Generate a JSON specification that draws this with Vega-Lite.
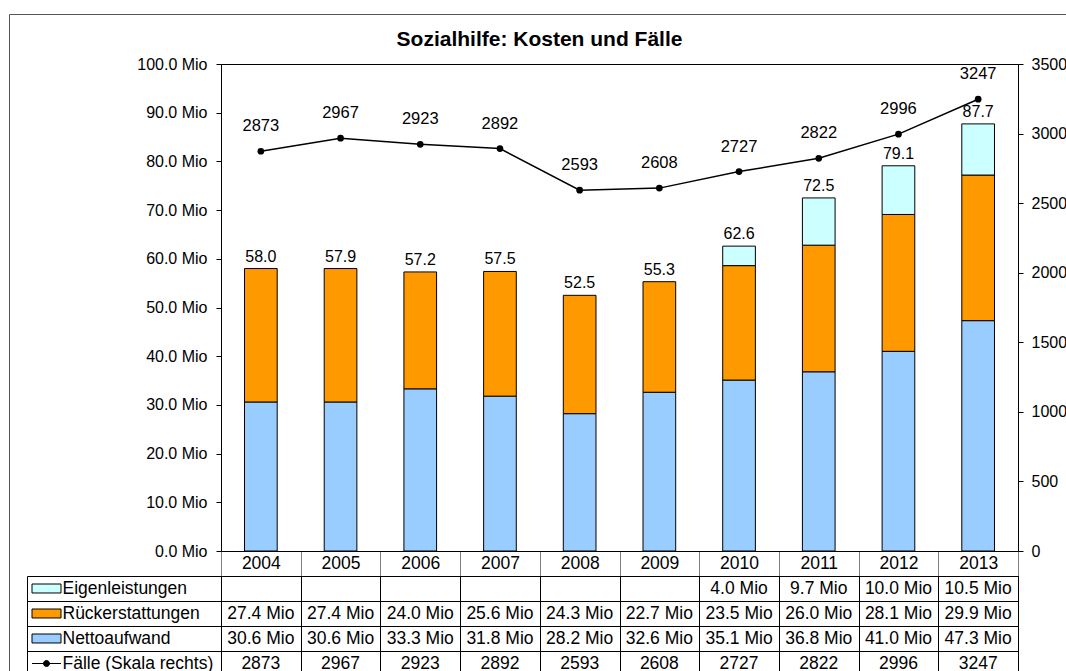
{
  "$schema": "https://vega.github.io/schema/vega-lite/v6.json",
  "padding": {"left": 8, "top": 13, "right": 0, "bottom": 0},
  "background": "white",
  "title": {"text": "Sozialhilfe: Kosten und Fälle", "fontSize": 21, "fontWeight": "bold", "color": "black", "anchor": "middle", "dy": 40, "dx": -112},
  "datasets": {
    "rows": [
      {"year": "2004", "series": "Nettoaufwand", "value": 30.6},
      {"year": "2004", "series": "Rückerstattungen", "value": 27.4},
      {"year": "2004", "series": "Fälle (Skala rechts)", "value": 2873},
      {"year": "2005", "series": "Nettoaufwand", "value": 30.6},
      {"year": "2005", "series": "Rückerstattungen", "value": 27.4},
      {"year": "2005", "series": "Fälle (Skala rechts)", "value": 2967},
      {"year": "2006", "series": "Nettoaufwand", "value": 33.3},
      {"year": "2006", "series": "Rückerstattungen", "value": 24.0},
      {"year": "2006", "series": "Fälle (Skala rechts)", "value": 2923},
      {"year": "2007", "series": "Nettoaufwand", "value": 31.8},
      {"year": "2007", "series": "Rückerstattungen", "value": 25.6},
      {"year": "2007", "series": "Fälle (Skala rechts)", "value": 2892},
      {"year": "2008", "series": "Nettoaufwand", "value": 28.2},
      {"year": "2008", "series": "Rückerstattungen", "value": 24.3},
      {"year": "2008", "series": "Fälle (Skala rechts)", "value": 2593},
      {"year": "2009", "series": "Nettoaufwand", "value": 32.6},
      {"year": "2009", "series": "Rückerstattungen", "value": 22.7},
      {"year": "2009", "series": "Fälle (Skala rechts)", "value": 2608},
      {"year": "2010", "series": "Nettoaufwand", "value": 35.1},
      {"year": "2010", "series": "Rückerstattungen", "value": 23.5},
      {"year": "2010", "series": "Eigenleistungen", "value": 4.0},
      {"year": "2010", "series": "Fälle (Skala rechts)", "value": 2727},
      {"year": "2011", "series": "Nettoaufwand", "value": 36.8},
      {"year": "2011", "series": "Rückerstattungen", "value": 26.0},
      {"year": "2011", "series": "Eigenleistungen", "value": 9.7},
      {"year": "2011", "series": "Fälle (Skala rechts)", "value": 2822},
      {"year": "2012", "series": "Nettoaufwand", "value": 41.0},
      {"year": "2012", "series": "Rückerstattungen", "value": 28.1},
      {"year": "2012", "series": "Eigenleistungen", "value": 10.0},
      {"year": "2012", "series": "Fälle (Skala rechts)", "value": 2996},
      {"year": "2013", "series": "Nettoaufwand", "value": 47.3},
      {"year": "2013", "series": "Rückerstattungen", "value": 29.9},
      {"year": "2013", "series": "Eigenleistungen", "value": 10.5},
      {"year": "2013", "series": "Fälle (Skala rechts)", "value": 3247}
    ],
    "totals": [
      {"year": "2004", "total": 58.0},
      {"year": "2005", "total": 57.9},
      {"year": "2006", "total": 57.2},
      {"year": "2007", "total": 57.5},
      {"year": "2008", "total": 52.5},
      {"year": "2009", "total": 55.3},
      {"year": "2010", "total": 62.6},
      {"year": "2011", "total": 72.5},
      {"year": "2012", "total": 79.1},
      {"year": "2013", "total": 87.7}
    ],
    "legend": [
      {"series": "Eigenleistungen"},
      {"series": "Rückerstattungen"},
      {"series": "Nettoaufwand"},
      {"series": "Fälle (Skala rechts)"}
    ]
  },
  "bounds": "flush",
  "spacing": 25,
  "vconcat": [
    {
      "width": 797,
      "height": 487,
      "layer": [
        {
          "layer": [
            {
              "layer": [
                {
                  "data": {"name": "rows"},
                  "transform": [{"filter": "datum.series != 'Fälle (Skala rechts)'"}],
                  "mark": {"type": "bar", "stroke": "black", "strokeWidth": 1, "width": {"band": 0.41}},
                  "encoding": {
                    "x": {"field": "year", "type": "ordinal", "scale": {"type": "band", "paddingInner": 0, "paddingOuter": 0},
                      "axis": {"orient": "bottom", "title": null, "labelAngle": 0, "tickBand": "extent", "tickSize": 25, "tickColor": "#808080", "labelPadding": -22, "labelFontSize": 17.5, "domainColor": "black", "labelBaseline": "top"}},
                    "y": {"field": "value", "type": "quantitative", "stack": "zero", "scale": {"domain": [0, 100], "nice": false},
                      "axis": {"orient": "left", "title": null, "values": [0, 10, 20, 30, 40, 50, 60, 70, 80, 90, 100], "labelExpr": "format(datum.value, '.1f') + ' Mio'", "tickSize": 5, "labelPadding": 9}},
                    "fill": {"field": "series", "type": "nominal",
                      "scale": {"domain": ["Eigenleistungen", "Rückerstattungen", "Nettoaufwand", "Fälle (Skala rechts)"], "range": ["#CCFFFF", "#FF9900", "#99CCFF", "#000000"]}, "legend": null},
                    "order": {"field": "value", "sort": "descending"}
                  }
                },
                {
                  "data": {"name": "totals"},
                  "mark": {"type": "text", "baseline": "middle", "dy": -12, "fontSize": 16},
                  "encoding": {
                    "x": {"field": "year", "type": "ordinal"},
                    "y": {"field": "total", "type": "quantitative", "axis": {"title": null}},
                    "text": {"field": "total", "type": "quantitative", "format": ".1f"}
                  }
                }
              ]
            },
            {
              "layer": [
                {
                  "data": {"name": "rows"},
                  "transform": [{"filter": "datum.series == 'Fälle (Skala rechts)'"}],
                  "mark": {"type": "line", "color": "black", "strokeWidth": 1.5},
                  "encoding": {
                    "x": {"field": "year", "type": "ordinal"},
                    "y": {"field": "value", "type": "quantitative", "scale": {"domain": [0, 3500], "nice": false},
                      "axis": {"orient": "right", "title": null, "values": [0, 500, 1000, 1500, 2000, 2500, 3000, 3500], "format": "d", "tickSize": 5, "labelPadding": 8}}
                  }
                },
                {
                  "data": {"name": "rows"},
                  "transform": [{"filter": "datum.series == 'Fälle (Skala rechts)'"}],
                  "mark": {"type": "point", "filled": true, "color": "black", "size": 45, "opacity": 1},
                  "encoding": {
                    "x": {"field": "year", "type": "ordinal"},
                    "y": {"field": "value", "type": "quantitative", "axis": {"title": null}}
                  }
                },
                {
                  "data": {"name": "rows"},
                  "transform": [{"filter": "datum.series == 'Fälle (Skala rechts)'"}],
                  "mark": {"type": "text", "baseline": "middle", "dy": -25, "fontSize": 16.5},
                  "encoding": {
                    "x": {"field": "year", "type": "ordinal"},
                    "y": {"field": "value", "type": "quantitative", "axis": {"title": null}},
                    "text": {"field": "value", "type": "quantitative", "format": "d"}
                  }
                }
              ]
            }
          ],
          "resolve": {"scale": {"y": "independent"}}
        },
        {
          "data": {"values": [{}]},
          "mark": {"type": "point", "opacity": 0, "size": 0, "strokeWidth": 0},
          "encoding": {
            "x": {"datum": 0.5, "type": "quantitative", "scale": {"domain": [0, 1], "range": [-212, 861]},
              "axis": {"orient": "top", "offset": 50, "title": null, "labels": false, "ticks": false, "grid": false, "domain": true, "domainColor": "#555555"}},
            "y": {"datum": 0.5, "type": "quantitative", "scale": {"domain": [0, 1], "range": [620, -50]},
              "axis": {"orient": "left", "offset": 212, "title": null, "labels": false, "ticks": false, "grid": false, "domain": true, "domainColor": "#555555"}}
          }
        }
      ],
      "resolve": {"scale": {"x": "independent", "y": "independent"}}
    },
    {
      "width": 797,
      "height": 100,
      "layer": [
        {
          "data": {"name": "rows"},
          "mark": {"type": "text", "fontSize": 17.5, "baseline": "middle", "text": {"expr": "datum.series == 'Fälle (Skala rechts)' ? format(datum.value, 'd') : format(datum.value, '.1f') + ' Mio'"}},
          "encoding": {
            "x": {"field": "year", "type": "ordinal", "scale": {"type": "band", "paddingInner": 0, "paddingOuter": 0},
              "axis": {"orient": "bottom", "title": null, "labels": false, "ticks": false, "domain": false, "grid": true, "tickBand": "extent", "gridColor": "black", "gridOpacity": 1}},
            "y": {"field": "series", "type": "nominal", "scale": {"type": "band", "domain": ["Eigenleistungen", "Rückerstattungen", "Nettoaufwand", "Fälle (Skala rechts)"], "paddingInner": 0, "paddingOuter": 0},
              "axis": {"orient": "left", "title": null, "domain": false, "grid": true, "gridColor": "black", "gridOpacity": 1, "tickBand": "extent", "tickSize": 194, "tickColor": "black", "labelAlign": "left", "labelPadding": -35, "labelBaseline": "middle", "labelLimit": 300, "labelFontSize": 17.5}}
          }
        },
        {
          "data": {"name": "legend"},
          "mark": {"type": "point", "filled": true, "stroke": "black", "strokeWidth": 1, "size": 841, "opacity": 1},
          "encoding": {
            "x": {"datum": "sym", "type": "nominal", "scale": {"type": "point", "domain": ["sym"], "range": [-189, -160]}, "axis": null},
            "y": {"field": "series", "type": "nominal", "scale": {"type": "band", "domain": ["Eigenleistungen", "Rückerstattungen", "Nettoaufwand", "Fälle (Skala rechts)"], "paddingInner": 0, "paddingOuter": 0},
              "axis": {"orient": "left", "offset": 194, "title": null, "labels": false, "ticks": false, "grid": false, "domain": true, "domainColor": "black"}},
            "fill": {"field": "series", "type": "nominal",
              "scale": {"domain": ["Eigenleistungen", "Rückerstattungen", "Nettoaufwand", "Fälle (Skala rechts)"], "range": ["#CCFFFF", "#FF9900", "#99CCFF", "#000000"]}, "legend": null},
            "shape": {"field": "series", "type": "nominal",
              "scale": {"domain": ["Eigenleistungen", "Rückerstattungen", "Nettoaufwand", "Fälle (Skala rechts)"],
                "range": ["M-1,-0.31H1V0.31H-1Z", "M-1,-0.31H1V0.31H-1Z", "M-1,-0.31H1V0.31H-1Z", "M-1,0H1M0.21,0A0.21,0.21,0,1,1,-0.21,0A0.21,0.21,0,1,1,0.21,0Z"]}, "legend": null}
          }
        }
      ],
      "resolve": {"scale": {"x": "independent", "y": "independent"}}
    }
  ],
  "config": {
    "font": "Liberation Sans",
    "view": {"stroke": "black", "strokeWidth": 1},
    "axis": {"labelFont": "Liberation Sans", "labelFontSize": 16, "labelColor": "black", "domainColor": "black", "tickColor": "black", "grid": false},
    "text": {"font": "Liberation Sans", "fontSize": 16, "color": "black"}
  }
}
